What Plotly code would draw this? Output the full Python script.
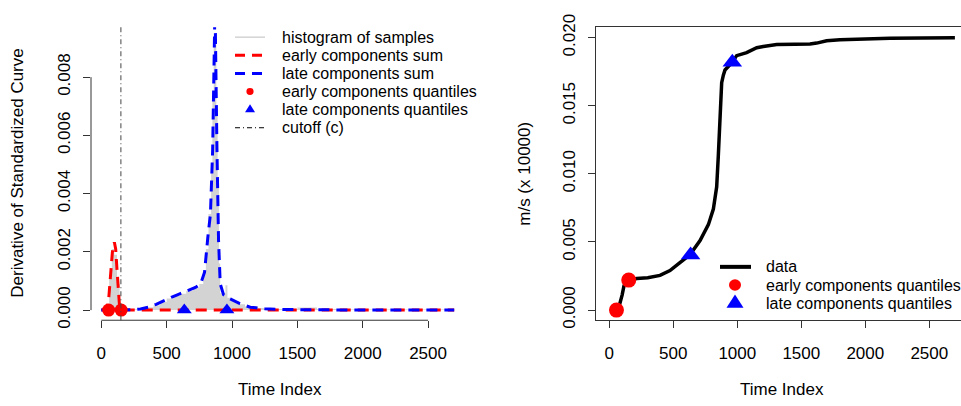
import plotly.graph_objects as go

W, H = 961, 406

# ---------------- data ----------------
# histogram of samples (bin breaks and densities)
hist_breaks = [40, 60, 80, 100, 120, 140, 160, 250, 300, 350, 400, 450, 500, 550,
               600, 650, 700, 750, 780, 800, 820, 840, 850, 860, 870, 880, 890, 900,
               910, 950, 965, 1000, 1050, 1100, 1200, 1300, 1500, 1650, 1800, 2700]
hist_density = [0.0002, 0.0011, 0.0021, 0.0019, 0.0009, 0.00012, 0.00001, 0.00003,
                0.00005, 0.0001, 0.00017, 0.00028, 0.0004, 0.00048, 0.00056, 0.00066,
                0.00078, 0.0009, 0.0013, 0.0021, 0.0033, 0.0050, 0.0072, 0.0093,
                0.0091, 0.0070, 0.0042, 0.0016, 0.00058, 0.00085, 0.00042, 0.0003,
                0.0002, 0.00012, 0.00007, 0.00004, 0.00009, 0.00004, 0.00002]

# early components sum
early_x = [0, 40, 55, 70, 85, 100, 110, 120, 130, 140, 155, 2700]
early_y = [0, 0.00002, 0.0003, 0.0012, 0.0020, 0.00233, 0.0021, 0.0014, 0.0006,
           0.0001, 0, 0]

# late components sum
late_x = [0, 150, 230, 300, 360, 420, 480, 540, 600, 660, 720, 760, 790, 815, 835,
          852, 870, 885, 897, 910, 935, 970, 1010, 1060, 1140, 1250, 1400, 1600,
          2000, 2700]
late_y = [0, 0, 0.00001, 0.00004, 0.0001, 0.0002, 0.00033, 0.00045, 0.00056,
          0.00067, 0.00078, 0.0009, 0.0013, 0.0025, 0.0033, 0.0055, 0.0105, 0.0055,
          0.0024, 0.0009, 0.00053, 0.00042, 0.00032, 0.00022, 0.0001, 0.00005,
          0.00002, 0.00001, 0, 0]

# quantiles
early_q_x = [56, 152]
early_q_curve = [0.0, 0.0022]
late_q_x = [635, 961]
late_q_curve = [0.00405, 0.0182]
q_baseline = [0.0, 0.0]

cutoff_c = 150

# data curve (m/s x 10000)
data_x = [58, 80, 100, 115, 135, 154, 214, 300, 396, 474, 552, 630, 709, 774, 813,
          839, 852, 865, 878, 891, 904, 961, 995, 1073, 1152, 1203, 1308, 1450,
          1568, 1620, 1698, 1802, 1984, 2193, 2700]
data_y = [0, 0.0004, 0.0011, 0.0018, 0.0021, 0.0022, 0.00232, 0.00238, 0.00255,
          0.0029, 0.00348, 0.00406, 0.0051, 0.00627, 0.00742, 0.00905, 0.01137,
          0.01485, 0.0167, 0.01725, 0.01763, 0.0182, 0.01868, 0.0189, 0.01926,
          0.01935, 0.0195, 0.01952, 0.01953, 0.0196, 0.01977, 0.01984, 0.01991,
          0.01995, 0.02]

x_ticks = [0, 500, 1000, 1500, 2000, 2500]
y1_ticks = [0, 0.002, 0.004, 0.006, 0.008]
y1_labels = ["0.000", "0.002", "0.004", "0.006", "0.008"]
y2_ticks = [0, 0.005, 0.010, 0.015, 0.020]
y2_labels = ["0.000", "0.005", "0.010", "0.015", "0.020"]

left_legend = ["histogram of samples", "early components sum", "late components sum",
               "early components quantiles", "late components quantiles", "cutoff (c)"]
right_legend = ["data", "early components quantiles", "late components quantiles"]

# ---------------- styling ----------------
FONT = "Liberation Sans, Arial, Helvetica, sans-serif"
AX = "#333333"
RED = "#FF0000"
BLUE = "#0000FF"
GRAY = "#D3D3D3"


def fx(p):
    return p / W


def fy(p):
    return 1 - p / H


# histogram as step-filled area
hx, hy = [], []
for i, d in enumerate(hist_density):
    hx += [hist_breaks[i], hist_breaks[i + 1]]
    hy += [d, d]

fig = go.Figure()

fig.add_trace(go.Scatter(x=[hist_breaks[0]] + hx + [hist_breaks[-1]], y=[0] + hy + [0],
                         mode="lines", line=dict(width=0, color=GRAY), fill="toself",
                         fillcolor=GRAY, xaxis="x", yaxis="y", hoverinfo="skip"))
fig.add_trace(go.Scatter(x=early_x, y=early_y, mode="lines",
                         line=dict(color=RED, width=3, dash="11px,7px"),
                         xaxis="x", yaxis="y"))
fig.add_trace(go.Scatter(x=late_x, y=late_y, mode="lines",
                         line=dict(color=BLUE, width=3, dash="11px,7px"),
                         xaxis="x", yaxis="y"))
fig.add_trace(go.Scatter(x=early_q_x, y=q_baseline, mode="markers",
                         marker=dict(color=RED, size=13, symbol="circle"),
                         xaxis="x", yaxis="y", cliponaxis=False))
fig.add_trace(go.Scatter(x=late_q_x, y=q_baseline, mode="markers",
                         marker=dict(color=BLUE, size=13, symbol="triangle-up"),
                         xaxis="x", yaxis="y", cliponaxis=False))

# right panel
fig.add_trace(go.Scatter(x=data_x, y=data_y, mode="lines",
                         line=dict(color="black", width=3.5),
                         xaxis="x2", yaxis="y2"))
fig.add_trace(go.Scatter(x=early_q_x, y=early_q_curve, mode="markers",
                         marker=dict(color=RED, size=15, symbol="circle"),
                         xaxis="x2", yaxis="y2", cliponaxis=False))
fig.add_trace(go.Scatter(x=late_q_x, y=late_q_curve, mode="markers",
                         marker=dict(color=BLUE, size=17, symbol="triangle-up"),
                         xaxis="x2", yaxis="y2", cliponaxis=False))

tickfont = dict(family=FONT, size=17, color="black")
common_x = dict(showgrid=False, zeroline=False, ticks="outside", ticklen=7,
                tickcolor=AX, tickwidth=1, tickvals=x_ticks, tickfont=tickfont,
                ticklabelstandoff=10)
common_y = dict(showgrid=False, zeroline=False, ticks="outside", ticklen=7,
                tickcolor=AX, tickwidth=1, tickfont=tickfont, tickangle=-90,
                ticklabelstandoff=6)

ydom = [fy(324), fy(15)]

fig.update_layout(
    width=W, height=H, margin=dict(l=0, r=0, t=0, b=0),
    paper_bgcolor="white", plot_bgcolor="white", showlegend=False,
    font=dict(family=FONT, size=16, color="black"),
    xaxis=dict(domain=[fx(91), fx(468)], range=[-78.8, 2805.6], anchor="y",
               showline=False, **common_x),
    yaxis=dict(domain=ydom, range=[-0.000348, 0.009714], anchor="x",
               showline=False, tickvals=y1_ticks, ticktext=y1_labels, **common_y),
    xaxis2=dict(domain=[fx(596), 1.0], range=[-103.9, 2747.7], anchor="y2",
                showline=True, mirror=True, linecolor=AX, linewidth=1, **common_x),
    yaxis2=dict(domain=ydom, range=[-0.000745, 0.020766], anchor="x2",
                showline=True, linecolor=AX, linewidth=1,
                tickvals=y2_ticks, ticktext=y2_labels, **common_y),
)

shapes = []
# left panel axis lines (R style, spanning only tick range)
shapes.append(dict(type="line", xref="x", yref="paper", x0=x_ticks[0], x1=x_ticks[-1],
                   y0=fy(324), y1=fy(324), line=dict(color=AX, width=1)))
shapes.append(dict(type="line", xref="paper", yref="y", x0=fx(91), x1=fx(91),
                   y0=y1_ticks[0], y1=y1_ticks[-1], line=dict(color=AX, width=1)))
# cutoff line
shapes.append(dict(type="line", xref="x", yref="y domain", x0=cutoff_c, x1=cutoff_c,
                   y0=0, y1=1, line=dict(color="#444444", width=1,
                                         dash="5px,3px,1px,3px")))

# ---- left legend ----
rows_l = [25.5, 44.6, 63.7, 82.8, 101.9, 121.0]
lx0, lx1, lxc, ltx = 235, 265, 250, 279.5
shapes.append(dict(type="line", xref="paper", yref="paper", x0=fx(lx0), x1=fx(lx1),
                   y0=fy(rows_l[0]), y1=fy(rows_l[0]), line=dict(color=GRAY, width=1.5)))
shapes.append(dict(type="line", xref="paper", yref="paper", x0=fx(lx0), x1=fx(lx1),
                   y0=fy(rows_l[1]), y1=fy(rows_l[1]),
                   line=dict(color=RED, width=3, dash="10px,7px")))
shapes.append(dict(type="line", xref="paper", yref="paper", x0=fx(lx0), x1=fx(lx1),
                   y0=fy(rows_l[2]), y1=fy(rows_l[2]),
                   line=dict(color=BLUE, width=3, dash="10px,7px")))
shapes.append(dict(type="circle", xref="paper", yref="paper",
                   x0=fx(lxc - 3.6), x1=fx(lxc + 3.6),
                   y0=fy(rows_l[3] + 3.6), y1=fy(rows_l[3] - 3.6),
                   fillcolor=RED, line=dict(width=0)))
tri_h, tri_w = 8.5, 10
shapes.append(dict(type="path", xref="paper", yref="paper",
                   path=f"M {fx(lxc - tri_w/2)},{fy(rows_l[4] + tri_h/3)} "
                        f"L {fx(lxc + tri_w/2)},{fy(rows_l[4] + tri_h/3)} "
                        f"L {fx(lxc)},{fy(rows_l[4] - 2*tri_h/3)} Z",
                   fillcolor=BLUE, line=dict(width=0)))
shapes.append(dict(type="line", xref="paper", yref="paper", x0=fx(lx0), x1=fx(lx1),
                   y0=fy(rows_l[5]), y1=fy(rows_l[5]),
                   line=dict(color="black", width=1, dash="5px,3px,1px,3px")))

# ---- right legend ----
rows_r = [267.7, 286.9, 306.1]
rx0, rx1, rxc, rtx = 720, 751, 735, 763.5
shapes.append(dict(type="line", xref="paper", yref="paper", x0=fx(rx0), x1=fx(rx1),
                   y0=fy(rows_r[0]), y1=fy(rows_r[0]), line=dict(color="black", width=4)))
shapes.append(dict(type="circle", xref="paper", yref="paper",
                   x0=fx(rxc - 6), x1=fx(rxc + 6),
                   y0=fy(rows_r[1] + 6), y1=fy(rows_r[1] - 6),
                   fillcolor=RED, line=dict(width=0)))
tri_h2, tri_w2 = 14, 17
shapes.append(dict(type="path", xref="paper", yref="paper",
                   path=f"M {fx(rxc - tri_w2/2)},{fy(rows_r[2] + tri_h2/3)} "
                        f"L {fx(rxc + tri_w2/2)},{fy(rows_r[2] + tri_h2/3)} "
                        f"L {fx(rxc)},{fy(rows_r[2] - 2*tri_h2/3)} Z",
                   fillcolor=BLUE, line=dict(width=0)))

fig.update_layout(shapes=shapes)

ann = []
for t, r in zip(left_legend, rows_l):
    ann.append(dict(text=t, x=fx(ltx), y=fy(r), xref="paper", yref="paper",
                    xanchor="left", yanchor="middle", showarrow=False,
                    font=dict(family=FONT, size=16, color="black")))
for t, r in zip(right_legend, rows_r):
    ann.append(dict(text=t, x=fx(rtx), y=fy(r), xref="paper", yref="paper",
                    xanchor="left", yanchor="middle", showarrow=False,
                    font=dict(family=FONT, size=16, color="black")))

title_font = dict(family=FONT, size=17, color="black")
ann.append(dict(text="Derivative of Standardized Curve", x=fx(18), y=fy(169.5),
                xref="paper", yref="paper", textangle=-90, showarrow=False,
                xanchor="center", yanchor="middle", font=title_font))
ann.append(dict(text="Time Index", x=fx(279.5), y=fy(397), xref="paper", yref="paper",
                showarrow=False, xanchor="center", yanchor="middle", font=title_font))
ann.append(dict(text="m/s (x 10000)", x=fx(525), y=fy(169.5), xref="paper",
                yref="paper", textangle=-90, showarrow=False, xanchor="center",
                yanchor="middle", font=title_font))
ann.append(dict(text="Time Index", x=fx(782), y=fy(397), xref="paper", yref="paper",
                showarrow=False, xanchor="center", yanchor="middle", font=title_font))
fig.update_layout(annotations=ann)

fig.write_html("out.html")
